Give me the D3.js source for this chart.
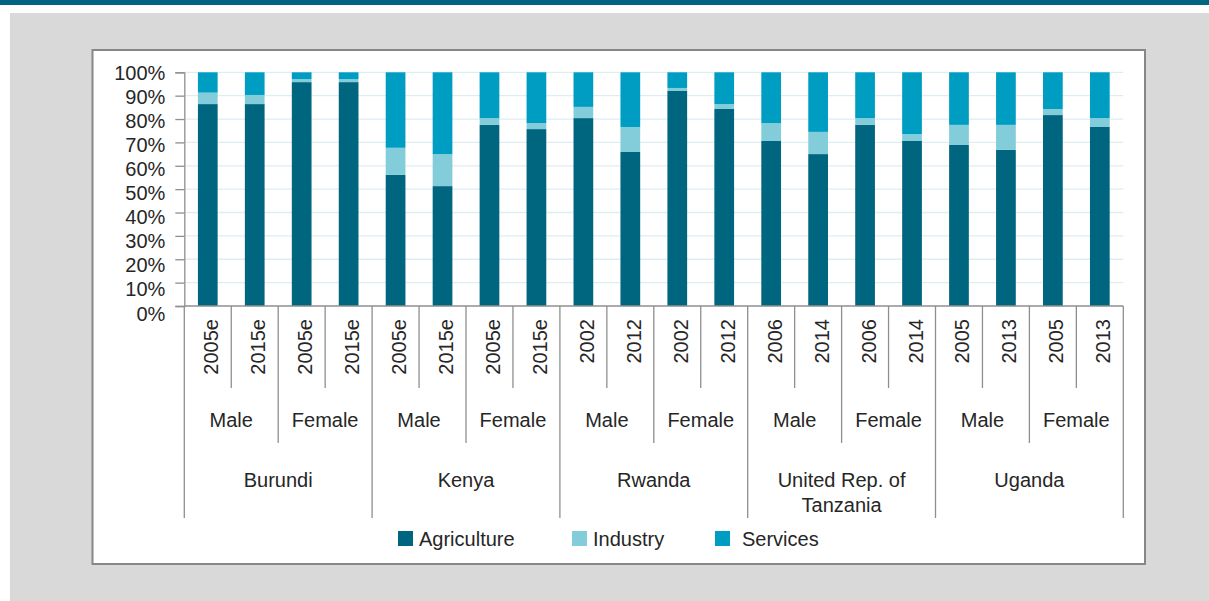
<!DOCTYPE html>
<html>
<head>
<meta charset="utf-8">
<script src="https://cdn.jsdelivr.net/npm/d3@7"></script>
<style>
  body { margin: 0; background: #fff; }
  svg text { font-family: "Liberation Sans", Arial, sans-serif; fill: #262626; }
</style>
</head>
<body>
<div id="chart"></div>
<script>
/* employment by sector, stacked 100% columns */

const countries = ['Burundi', 'Kenya', 'Rwanda', 'United Rep. of|Tanzania', 'Uganda'];
const genders   = ['Male', 'Female'];
const years = [
  '2005e', '2015e', '2005e', '2015e',
  '2005e', '2015e', '2005e', '2015e',
  '2002', '2012', '2002', '2012',
  '2006', '2014', '2006', '2014',
  '2005', '2013', '2005', '2013',
];
const sectors = ['Agriculture', 'Industry', 'Services'];
const agriculture = [86.4, 86.4, 95.8, 95.8, 56.1, 51.3, 77.5, 75.7, 80.4, 65.9, 92.0, 84.3, 70.6, 65.0, 77.5, 70.6, 68.9, 66.8, 81.7, 76.6];
const industry    = [ 4.9,  3.9,  1.3,  1.3, 11.6, 13.7,  2.9,  2.6,  4.8, 10.7,  1.3,  2.1,  7.7,  9.5,  2.9,  3.0,  8.6, 10.7,  2.6,  3.8];
const services    = [ 8.7,  9.7,  2.9,  2.9, 32.3, 35.0, 19.6, 21.7, 14.8, 23.4,  6.7, 13.6, 21.7, 25.5, 19.6, 26.4, 22.5, 22.5, 15.7, 19.6];
const yTicks = [0, 10, 20, 30, 40, 50, 60, 70, 80, 90, 100];

const colors = { Agriculture: '#00657f', Industry: '#83ccd9', Services: '#009dc3' };

// ── layout ───────────────────────────────────────────────────
const W = 1209, H = 601;
const PL = 184.3, PR = 1123.3, PT = 72.3, PB = 306;
const LINE = '#8f8f8f';

const svg = d3.select('#chart').append('svg').attr('width', W).attr('height', H);

// page frame
svg.append('rect').attr('x', 0).attr('y', 0).attr('width', W).attr('height', 5).attr('fill', '#00657f');
svg.append('rect').attr('x', 10).attr('y', 13).attr('width', W - 10).attr('height', H - 13).attr('fill', '#d9d9d9');
svg.append('rect').attr('x', 92.5).attr('y', 50).attr('width', 1052.5).attr('height', 514)
  .attr('fill', '#fff').attr('stroke', '#878787').attr('stroke-width', 2);

// ── scales ───────────────────────────────────────────────────
const n = years.length;
const x = d3.scaleBand().domain(d3.range(n)).range([PL, PR]).paddingInner(0.58).paddingOuter(0.29);
const edge = d3.scaleLinear().domain([0, n]).range([PL, PR]);
const y = d3.scaleLinear().domain([0, 100]).range([PB, PT]);
const yLab = d3.scaleLinear().domain([0, 100]).range([313, 72.7]);

// gridlines
svg.append('g').selectAll('line').data(yTicks.filter(d => d > 0)).join('line')
  .attr('x1', PL).attr('x2', PR)
  .attr('y1', d => y(d)).attr('y2', d => y(d))
  .attr('stroke', '#dcedf3').attr('stroke-width', 1.3);

// stacked bars
const rows = d3.range(n).map(i => ({ i, Agriculture: agriculture[i], Industry: industry[i], Services: services[i] }));
const stack = d3.stack().keys(sectors)(rows);

svg.append('g').selectAll('g').data(stack).join('g')
  .attr('fill', s => colors[s.key])
  .selectAll('rect').data(s => s).join('rect')
  .attr('x', d => x(d.data.i))
  .attr('width', x.bandwidth())
  .attr('y', d => y(Math.min(d[1], 100)))
  .attr('height', d => y(d[0]) - y(Math.min(d[1], 100)));

// y axis
const yAxisG = svg.append('g').attr('transform', `translate(${PL},0)`)
  .call(d3.axisLeft(y).tickValues(yTicks).tickSize(9).tickPadding(10).tickFormat(d => d + '%'));
yAxisG.select('.domain').attr('stroke', LINE).attr('stroke-width', 1.3);
yAxisG.selectAll('.tick line').attr('stroke', LINE).attr('stroke-width', 1.3);
yAxisG.selectAll('.tick text')
  .attr('font-size', 20).attr('font-family', null).attr('fill', '#262626')
  .attr('dy', null).attr('dominant-baseline', 'central')
  .attr('y', d => yLab(d) - y(d));

// ── category axis ────────────────────────────────────────────
const catG = svg.append('g').attr('stroke', LINE).attr('stroke-width', 1.3);
catG.append('line').attr('x1', PL).attr('x2', PR).attr('y1', PB).attr('y2', PB);

d3.range(n + 1).forEach(k => {
  let bottom = 388;
  if (k % 4 === 0) bottom = 518;
  else if (k % 2 === 0) bottom = 443;
  catG.append('line').attr('x1', edge(k)).attr('x2', edge(k)).attr('y1', PB).attr('y2', bottom);
});

// year labels
svg.append('g').selectAll('text').data(years).join('text')
  .attr('transform', (d, i) => `translate(${x(i) + x.bandwidth() / 2 + 3.5},319) rotate(-90)`)
  .attr('text-anchor', 'end').attr('dominant-baseline', 'central')
  .attr('font-size', 20).text(d => d);

// gender labels
const genderIdx = d3.range(n / 2);
svg.append('g').selectAll('text').data(genderIdx).join('text')
  .attr('x', g => (edge(g * 2) + edge(g * 2 + 2)) / 2)
  .attr('y', 427).attr('text-anchor', 'middle')
  .attr('font-size', 20).text(g => genders[g % 2]);

// country labels
svg.append('g').selectAll('text').data(countries).join('text')
  .attr('x', (c, ci) => (edge(ci * 4) + edge(ci * 4 + 4)) / 2)
  .attr('y', 487).attr('text-anchor', 'middle').attr('font-size', 20)
  .each(function (c, ci) {
    const cx = (edge(ci * 4) + edge(ci * 4 + 4)) / 2;
    c.split('|').forEach((part, li) => {
      d3.select(this).append('tspan').attr('x', cx).attr('dy', li ? 25 : 0).text(part);
    });
  });

// ── legend ───────────────────────────────────────────────────
const legendX = [398, 572, 715];
const legend = svg.append('g').selectAll('g').data(sectors).join('g')
  .attr('transform', (d, i) => `translate(${legendX[i]},531)`);
legend.append('rect').attr('width', 15).attr('height', 15).attr('fill', d => colors[d]);
legend.append('text').attr('x', (d, i) => i === 2 ? 27 : 21).attr('y', 14.5)
  .attr('font-size', 20).text(d => d);
</script>
</body>
</html>
